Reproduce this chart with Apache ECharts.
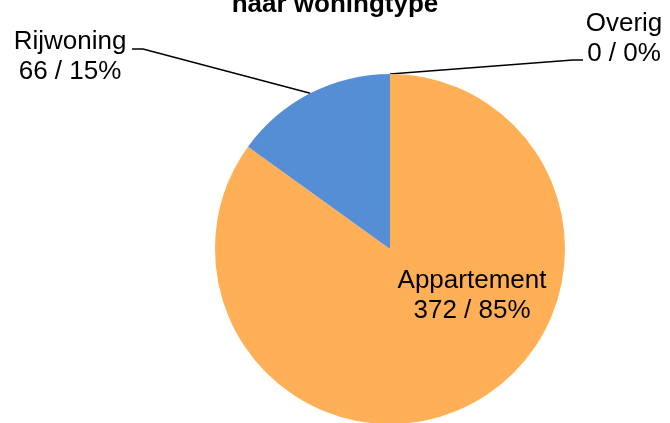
<!DOCTYPE html>
<html>
<head>
<meta charset="utf-8">
<script src="https://cdn.jsdelivr.net/npm/echarts@6/dist/echarts.min.js"></script>
<style>
  html, body { margin: 0; padding: 0; background: #fff; }
  #chart { width: 670px; height: 423px; }
</style>
</head>
<body>
<div id="chart"></div>
<script>
const titleText = 'naar woningtype'
const categories = ['Appartement', 'Rijwoning', 'Overig']
const counts = [372, 66, 0]
const percents = [85, 15, 0]
const sliceColors = ['#FFB056', '#558ED5', '#A5A5A5']

// label spots (Excel placed these by hand), plus where the leader line meets the label
const labelSpots = [
  { x: 472, y: 296 },
  { x: 70, y: 57, lineEnd: [132, 49], lineStep: 11 },
  { x: 624, y: 39, lineEnd: [583, 60], lineStep: -10 }
]

const chart = echarts.init(document.getElementById('chart'))

const pieData = categories.map((name, i) => ({
  name,
  value: counts[i],
  itemStyle: { color: sliceColors[i] },
  label: {
    position: i === 0 ? 'inside' : 'outside'
  },
  labelLine: { show: i !== 0 }
}))

chart.setOption({
  backgroundColor: '#ffffff',
  animation: false,
  title: {
    text: titleText,
    left: 'center',
    top: -13,
    textStyle: { fontFamily: 'Liberation Sans', fontSize: 26, fontWeight: 'bold', color: '#000' }
  },
  series: [{
    type: 'pie',
    center: [390, 249],
    radius: 175,
    startAngle: 90,
    clockwise: true,
    data: pieData,
    label: {
      show: true,
      formatter: (p) => p.name + '\n' + p.value + ' / ' + percents[p.dataIndex] + '%',
      fontFamily: 'Liberation Sans',
      fontSize: 26,
      lineHeight: 30,
      color: '#000',
      align: 'center'
    },
    labelLine: {
      show: true,
      length: 20,
      length2: 10,
      smooth: false,
      lineStyle: { color: '#000', width: 1.5 }
    },
    labelLayout: (params) => {
      const spot = labelSpots[params.dataIndex]
      const out = { x: spot.x, y: spot.y, align: 'center', verticalAlign: 'middle' }
      const pts = params.labelLinePoints
      if (spot.lineEnd && pts && pts.length) {
        const start = pts[0]
        out.labelLinePoints = [
          start,
          [spot.lineEnd[0] + spot.lineStep, spot.lineEnd[1]],
          spot.lineEnd
        ]
      }
      return out
    },
    emphasis: { disabled: true }
  }]
})
</script>
</body>
</html>
